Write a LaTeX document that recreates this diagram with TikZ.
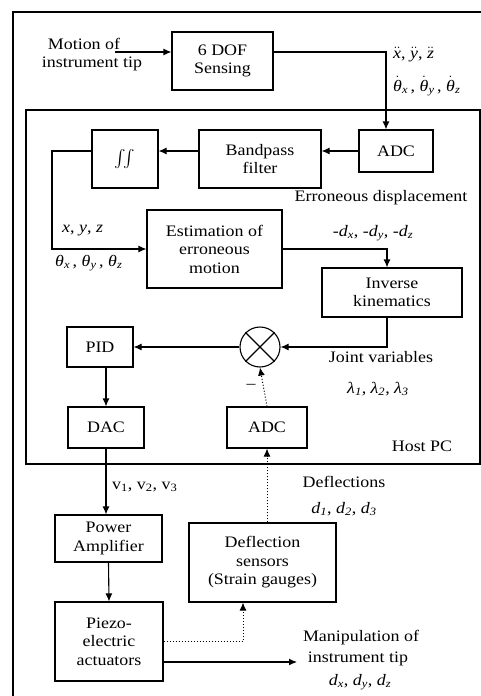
\documentclass[tikz,border=0pt]{standalone}
\usepackage{amsmath}
\usepackage{fontspec}
\setmainfont{Liberation Serif}[FakeStretch=1.12]
\usetikzlibrary{arrows.meta}
\newcommand{\myit}[1]{\textit{#1}}
\newcommand{\mysb}[1]{\textsubscript{\textit{#1}}}
\begin{document}
\begin{tikzpicture}[x=1pt,y=-1pt,
  font=\fontsize{16}{18.5}\selectfont,
  blk/.style={draw, line width=1.1pt, align=center, inner sep=0pt},
  conn/.style={line width=1.1pt, -{Latex[length=8pt,width=7pt]}},
  dconn/.style={line width=1pt, dotted, -{Latex[length=8pt,width=7pt]}},
  lbl/.style={inner sep=0pt, align=center}]
\useasboundingbox (0,0) rectangle (481,696);
% frames
\draw[line width=1.1pt] (481,12) -- (13,12) -- (13,696);
\draw[line width=1.1pt] (26,110) rectangle (480,464);
% blocks
\node[blk, minimum width=101pt, minimum height=58pt] (dof) at (222.5,61) {6 DOF\\Sensing};
\node[blk, minimum width=74pt, minimum height=42pt] (adca) at (396,151) {ADC};
\node[blk, minimum width=122pt, minimum height=58pt] (bp) at (260,159) {Bandpass\\filter};
\node[blk, minimum width=66pt, minimum height=58pt] (int) at (125,159) {$\iint$};
\node[blk, minimum width=135pt, minimum height=78pt] (est) at (214.5,249) {Estimation of\\erroneous\\motion};
\node[blk, minimum width=140pt, minimum height=49pt] (ik) at (392,292.5) {Inverse\\kinematics};
\node[draw, circle, line width=1.1pt, minimum size=40pt, inner sep=0pt] (cir) at (260,347) {};
\draw[line width=1.1pt] (cir.45) -- (cir.225) (cir.135) -- (cir.-45);
\node[blk, minimum width=66pt, minimum height=40pt] (pid) at (100,347) {PID};
\node[blk, minimum width=76pt, minimum height=41pt] (dac) at (106,427.5) {DAC};
\node[blk, minimum width=80pt, minimum height=41pt] (adcb) at (267,427.5) {ADC};
\node[blk, minimum width=107pt, minimum height=47pt] (pa) at (108.5,538.5) {Power\\Amplifier};
\node[blk, minimum width=108pt, minimum height=79pt] (pz) at (109,641.5) {Piezo-\\electric\\actuators};
\node[blk, minimum width=147pt, minimum height=79pt] (ds) at (262.5,562.5) {Deflection\\sensors\\(Strain gauges)};
% coordinates
\coordinate (mot) at (115,52);
\coordinate (il) at (52,0);
\coordinate (dq) at (243,0);
\coordinate (pzo) at ([yshift=-20.5pt]pz.east);
\coordinate (mt) at (297,662);
% labels
\node[lbl] at (84,44) {Motion of};
\node[lbl] at (92,64) {instrument tip};
\node[lbl, anchor=west] at (393,55) {$\ddot{\mbox{\myit{x}}}$, $\ddot{\mbox{\myit{y}}}$, $\ddot{\mbox{\myit{z}}}$};
\node[lbl, anchor=west] at (393,86) {$\dot{\mbox{\myit{θ}}}$\mysb{x}\,, $\dot{\mbox{\myit{θ}}}$\mysb{y}\,, $\dot{\mbox{\myit{θ}}}$\mysb{z}};
\node[lbl, anchor=west] at (62,231) {\myit{x}, \myit{y}, \myit{z}};
\node[lbl, anchor=west] at (55,263) {\myit{θ}\mysb{x}\,, \myit{θ}\mysb{y}\,, \myit{θ}\mysb{z}};
\node[lbl] at (381,198) {Erroneous displacement};
\node[lbl] at (373,233) {-\myit{d}\mysb{x}, -\myit{d}\mysb{y}, -\myit{d}\mysb{z}};
\node[lbl] at (381,357) {Joint variables};
\node[lbl] at (378,389) {\myit{λ}\mysb{1}, \myit{λ}\mysb{2}, \myit{λ}\mysb{3}};
\node[lbl] at (251,386) {--};
\node[lbl] at (422,446) {Host PC};
\node[lbl, anchor=west] at (112,487) {v\textsubscript{1}, v\textsubscript{2}, v\textsubscript{3}};
\node[lbl] at (344,482) {Deflections};
\node[lbl] at (344,509) {\myit{d}\mysb{1}, \myit{d}\mysb{2}, \myit{d}\mysb{3}};
\node[lbl] at (361,638) {Manipulation of};
\node[lbl] at (358,659) {instrument tip};
\node[lbl] at (360,682) {\myit{d}\mysb{x}, \myit{d}\mysb{y}, \myit{d}\mysb{z}};
% connectors
\draw[conn] (mot) -- (mot -| dof.west);
\draw[conn] ([yshift=9pt]dof.east) -| ([xshift=-10pt]adca.north);
\draw[conn] (adca.west) -- (adca.west -| bp.east);
\draw[conn] (adca.west -| bp.west) -- (adca.west -| int.east);
\draw[conn] (adca.west -| int.west) -| (il |- est.west) -- (est.west);
\draw[conn] (est.east) -| ([xshift=-5pt]ik.north);
\draw[conn] ([xshift=-5pt]ik.south) |- (cir.east);
\draw[conn] (cir.west) -- (pid.east);
\draw[conn] (dac.north |- pid.south) -- (dac.north);
\draw[conn] (dac.south) -- (dac.south |- pa.north);
\draw[conn] (pa.south) -- (pz.north);
\draw[dconn] (pz.east) -| (dq |- ds.south);
\draw[dconn] (adcb.south |- ds.north) -- (adcb.south);
\draw[dconn] (adcb.north) -- (cir.south);
\draw[conn] (pzo) -- (mt);
\end{tikzpicture}
\end{document}
